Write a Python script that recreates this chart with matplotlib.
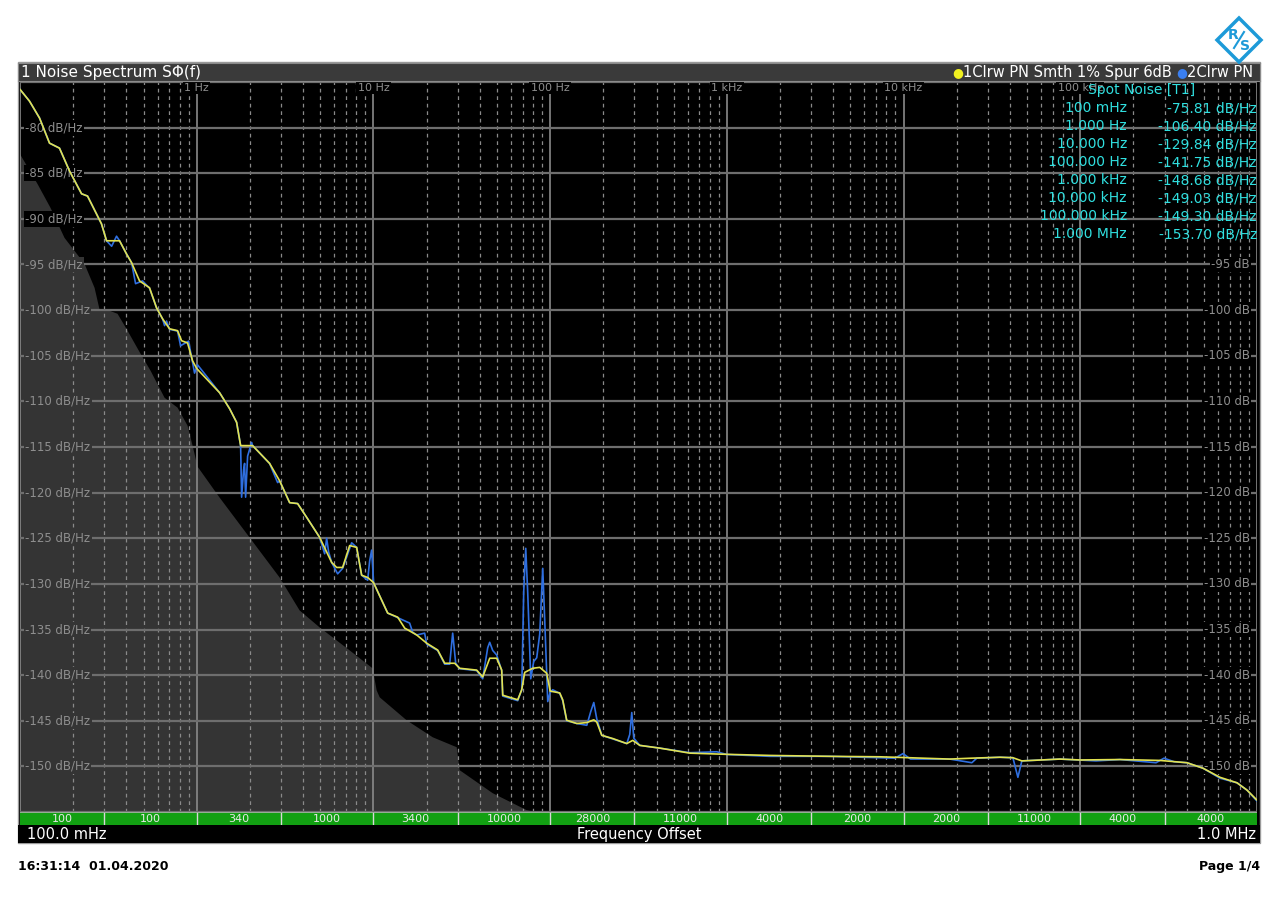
import numpy as np
import matplotlib
matplotlib.use("Agg")
import matplotlib.pyplot as plt
from matplotlib.ticker import LogLocator, MultipleLocator
from matplotlib.patches import Rectangle, Polygon
from matplotlib.lines import Line2D
from matplotlib.offsetbox import TextArea, HPacker, AnchoredOffsetbox

# ---------------- data ----------------
# Trace 1 (yellow, smoothed): offset frequency [Hz], phase noise [dBc/Hz]
smooth_freq = [0.1, 0.1132, 0.129, 0.1469, 0.1673, 0.1906, 0.223, 0.2411, 0.2892, 0.3088,
               0.3659, 0.4008, 0.4279, 0.4748, 0.5408, 0.5925, 0.6407, 0.7021, 0.7791, 0.8209,
               0.8875, 0.9473, 1.0, 1.347, 1.535, 1.682, 1.772, 2.072, 2.585, 2.945,
               3.356, 3.724, 4.188, 4.961, 5.801, 6.191, 6.695, 7.336, 8.035, 8.577,
               9.275, 10.0, 12.04, 13.72, 15.03, 17.57, 20.01, 23.10, 25.31, 28.83,
               30.77, 38.41, 41.53, 45.5, 49.85, 53.2, 53.91, 65.55, 69.06, 71.81,
               79.69, 87.3, 95.65, 100, 113.3, 117.8, 124.1, 141.5, 161.2, 176.6,
               183.6, 196.0, 226.2, 271.4, 293.5, 321.6, 417.4, 617.0, 1000, 1752,
               3830, 7348, 10000, 18270, 24340, 35060, 41550, 46700, 76640, 100000,
               167700, 282400, 401500, 494700, 617600, 770700, 877800, 1000000]
smooth_db = [-75.81, -77.1, -78.95, -81.7, -82.25, -84.75, -87.25, -87.5, -90.55, -92.4,
             -92.4, -93.85, -94.8, -96.8, -97.55, -99.75, -100.95, -102.05, -102.25, -103.35,
             -103.6, -105.55, -106.40, -109.05, -110.8, -112.3, -114.85, -114.85, -116.8, -118.7,
             -121.1, -121.2, -122.7, -124.9, -127.65, -128.2, -128.2, -125.8, -126.0, -129.05,
             -129.3, -129.84, -133.2, -133.65, -134.85, -135.6, -136.5, -137.25, -138.7, -138.7,
             -139.25, -139.45, -140.2, -138.15, -138.15, -139.45, -142.2, -142.7, -141.6, -139.7,
             -139.25, -139.15, -139.8, -141.75, -141.95, -142.7, -144.95, -145.3, -145.2, -144.9,
             -145.15, -146.6, -146.95, -147.5, -147.15, -147.7, -148.0, -148.55, -148.68, -148.8,
             -148.9, -148.95, -149.03, -149.2, -149.1, -149.0, -149.05, -149.4, -149.2, -149.30,
             -149.25, -149.35, -149.6, -150.2, -151.2, -151.8, -152.6, -153.70]

# Trace 2 (blue, raw with spurs)
raw_freq = [0.1, 0.1132, 0.129, 0.1469, 0.1673, 0.1906, 0.223, 0.2411, 0.2892, 0.3088,
            0.33, 0.3518, 0.3659, 0.4008, 0.4279, 0.4508, 0.4938, 0.5408, 0.5925, 0.6407,
            0.658, 0.675, 0.7021, 0.7791, 0.8103, 0.8993, 0.9723, 1.011, 1.347, 1.535,
            1.682, 1.772, 1.795, 1.842, 1.866, 1.891, 1.941, 2.045, 2.072, 2.585,
            2.870, 2.945, 3.356, 3.724, 4.188, 4.961, 5.297, 5.436, 5.578, 5.801,
            6.274, 6.695, 7.530, 8.035, 8.577, 9.275, 9.518, 9.770, 10.03, 12.04,
            13.72, 16.03, 16.68, 17.57, 19.49, 20.01, 23.10, 25.31, 27.01, 28.09,
            29.21, 30.77, 38.41, 41.53, 44.33, 45.5, 47.32, 49.85, 53.2, 53.91,
            65.55, 69.06, 70.89, 72.76, 74.68, 77.66, 80.73, 83.95, 87.3, 90.80,
            93.20, 96.92, 100, 103.4, 113.3, 117.8, 124.1, 141.5, 161.2, 169.7,
            176.6, 183.6, 196.0, 226.2, 271.4, 282.2, 289.7, 297.3, 321.6, 417.4,
            617.0, 877, 1000, 1752, 3830, 8926, 9930, 10950, 18270, 24340,
            25970, 35060, 41550, 44360, 46700, 76640, 122700, 167700, 268300, 297800,
            340000, 401500, 494700, 617600, 770700, 877800, 1000000]
raw_db = [-75.81, -77.1, -78.95, -81.7, -82.25, -84.75, -87.25, -87.5, -90.55, -92.4,
          -93.0, -91.9, -92.4, -93.85, -94.8, -97.1, -96.8, -97.6, -99.75, -100.95,
          -101.7, -101.2, -102.1, -102.3, -103.9, -103.4, -106.9, -106.0, -109.05, -110.8,
          -112.3, -114.85, -120.5, -117.5, -116.8, -120.5, -116.0, -114.5, -114.85, -116.8,
          -118.9, -118.7, -121.1, -121.2, -122.7, -124.9, -126.7, -125.0, -126.5, -127.65,
          -128.9, -128.3, -125.5, -126.0, -129.05, -129.6, -127.5, -126.3, -129.9, -133.2,
          -133.7, -134.3, -135.3, -135.6, -135.4, -136.6, -137.3, -138.8, -138.8, -135.4,
          -138.7, -139.3, -139.5, -140.4, -137.0, -136.4, -137.3, -137.8, -139.5, -142.3,
          -142.8, -141.6, -130.8, -126.1, -131.0, -140.4, -138.5, -138.1, -135.5, -128.3,
          -134.0, -142.9, -141.9, -141.6, -142.0, -142.8, -145.0, -145.3, -145.5, -144.0,
          -143.0, -144.8, -146.6, -147.0, -147.5, -146.5, -144.1, -146.9, -147.7, -148.0,
          -148.5, -148.4, -148.7, -148.9, -148.9, -149.1, -148.6, -149.2, -149.2, -149.6,
          -149.1, -149.0, -149.05, -151.2, -149.4, -149.2, -149.4, -149.25, -149.6, -149.1,
          -149.5, -149.6, -150.2, -151.3, -151.8, -152.6, -153.8]

# measurement floor (grey area)
floor_freq = [0.1, 0.1256, 0.1489, 0.1786, 0.2318, 0.2643, 0.2821, 0.3212, 0.3565, 0.4061,
              0.4810, 0.5480, 0.6577, 0.7791, 0.8875, 0.9473, 1.011, 1.347, 1.992, 2.945,
              3.822, 4.961, 7.336, 9.899, 10.43, 10.85, 15.42, 21.65, 29.6, 30.77,
              47.32, 73.7, 106.1, 1000000]
floor_db = [-82.9, -86.17, -88.8, -92.08, -94.93, -97.56, -99.96, -100.07, -100.4, -102.26,
            -104.78, -106.64, -109.6, -110.69, -112.66, -114.85, -117.15, -120.54, -124.92, -129.3,
            -132.91, -134.77, -137.29, -139.26, -141.67, -142.43, -144.95, -146.81, -147.9, -150.42,
            -152.94, -154.8, -155.4, -160.0]

# spot noise table
spot_labels = ["100 mHz", "1.000 Hz", "10.000 Hz", "100.000 Hz", "1.000 kHz",
               "10.000 kHz", "100.000 kHz", "1.000 MHz"]
spot_values = [-75.81, -106.40, -129.84, -141.75, -148.68, -149.03, -149.30, -153.70]

# segment bar below the plot
seg_edges = [0.1, 0.3, 1, 3, 10, 30, 100, 300, 1e3, 3e3, 1e4, 3e4, 1e5, 3e5, 1e6]
seg_labels = ["100", "100", "340", "1000", "3400", "10000", "28000", "11000",
              "4000", "2000", "2000", "11000", "4000", "4000"]

decade_freqs = [1, 10, 100, 1e3, 1e4, 1e5]
decade_labels = ["1 Hz", "10 Hz", "100 Hz", "1 kHz", "10 kHz", "100 kHz"]
left_levels = list(range(-80, -151, -5))
right_levels = list(range(-95, -151, -5))

# ---------------- figure ----------------
W, H = 1280, 905
fig = plt.figure(figsize=(12.8, 9.05), dpi=100)
fig.patch.set_facecolor("white")


def fx(px):
    return px / W


def fy(py):
    return 1 - py / H


def px_axes(x0, y0, x1, y1):
    return fig.add_axes([x0 / W, 1 - y1 / H, (x1 - x0) / W, (y1 - y0) / H])


GRAY_TXT = "#8e8e8e"
CYAN = "#30e0e0"
FLOOR_C = "#343434"

# outer black frame
fig.add_artist(Rectangle((fx(18), fy(843)), 1242 / W, (843 - 62) / H,
                         transform=fig.transFigure, facecolor="black",
                         edgecolor="#9a9a9a", lw=1.0, zorder=0))

# main plot
ax = px_axes(20, 82, 1257, 812)
ax.set_facecolor("black")
ax.set_xscale("log")
ax.set_xlim(0.1, 1e6)
ax.set_ylim(-155, -75)
ax.xaxis.set_major_locator(LogLocator(base=10, numticks=20))
ax.xaxis.set_minor_locator(LogLocator(base=10, subs=np.arange(2, 10), numticks=200))
ax.yaxis.set_major_locator(MultipleLocator(5))
ax.set_axisbelow(True)
ax.grid(which="major", axis="x", color="#8a8a8a", lw=1.2, ls="-")
ax.grid(which="minor", axis="x", color="#8a8a8a", lw=0.9, ls=(0, (3, 3)))
ax.grid(which="major", axis="y", color="#6e6e6e", lw=1.6, ls="-")
ax.tick_params(which="both", length=0, labelbottom=False, labelleft=False)
for s in ax.spines.values():
    s.set_visible(False)

ax.fill_between(floor_freq, floor_db, -200, color=FLOOR_C, lw=0, zorder=0.2)

# left level labels: background matches what lies under the label
label_end_freq = 0.23
floor_at_label = np.interp(np.log10(label_end_freq), np.log10(floor_freq), floor_db)
for lv in left_levels:
    bg = FLOOR_C if lv <= floor_at_label else "black"
    ax.text(5 / 1237, lv, f"{lv} dB/Hz", transform=ax.get_yaxis_transform(),
            ha="left", va="center", fontsize=8.5, color=GRAY_TXT, zorder=1,
            bbox=dict(facecolor=bg, edgecolor="none", pad=1.0))
for lv in right_levels:
    ax.text(1 - 7 / 1237, lv, f"{lv} dB", transform=ax.get_yaxis_transform(),
            ha="right", va="center", fontsize=8.5, color=GRAY_TXT, zorder=1,
            bbox=dict(facecolor="black", edgecolor="none", pad=1.0))
for f, lab in zip(decade_freqs, decade_labels):
    ax.text(f, 1 - 6 / 730, lab, transform=ax.get_xaxis_transform(),
            ha="center", va="center", fontsize=8, color=GRAY_TXT, zorder=1,
            bbox=dict(facecolor="black", edgecolor="none", pad=1.0))

ax.plot(raw_freq, raw_db, color="#2f6fe0", lw=1.2, zorder=3)
ax.plot(smooth_freq, smooth_db, color="#e2e250", lw=1.2, zorder=4)

# header bar
hdr = px_axes(18, 63, 1260, 81)
hdr.set_facecolor("#3a3a3a")
hdr.set_xticks([]); hdr.set_yticks([])
for s in hdr.spines.values():
    s.set_color("#8a8a8a"); s.set_linewidth(0.8)
hdr.text(3 / 1242, 0.45, "1 Noise Spectrum S\u03a6(f)", transform=hdr.transAxes,
         ha="left", va="center", fontsize=11, color="white")
parts = [TextArea("\u25cf", textprops=dict(color="#f0f020", fontsize=9)),
         TextArea("1Clrw PN Smth 1% Spur 6dB ", textprops=dict(color="white", fontsize=10.5)),
         TextArea("\u25cf", textprops=dict(color="#3a7ff0", fontsize=9)),
         TextArea("2Clrw PN", textprops=dict(color="white", fontsize=10.5))]
pack = HPacker(children=parts, align="center", pad=0, sep=0)
hdr.add_artist(AnchoredOffsetbox(loc="center right", child=pack, frameon=False,
                                 bbox_to_anchor=(1.0, 0.45), bbox_transform=hdr.transAxes,
                                 borderpad=0.1))

# spot noise table
fig.text(fx(1142), fy(90), "Spot Noise [T1]", ha="center", va="center",
         fontsize=10, color=CYAN)
for i, (lab, v) in enumerate(zip(spot_labels, spot_values)):
    yy = 108 + 18 * i
    fig.text(fx(1127), fy(yy), lab, ha="right", va="center", fontsize=10, color=CYAN)
    fig.text(fx(1257), fy(yy), f"{v:.2f} dB/Hz", ha="right", va="center",
             fontsize=10, color=CYAN)

# green segment bar
gb = px_axes(20, 812, 1257, 825)
gb.set_facecolor("#12a012")
gb.set_xscale("log")
gb.set_xlim(0.1, 1e6)
gb.set_ylim(0, 1)
gb.set_xticks([]); gb.set_yticks([])
gb.minorticks_off()
for s in gb.spines.values():
    s.set_visible(False)
gb.vlines(seg_edges[1:-1], 0, 1, color="#d8d8d8", lw=1.0)
gb.axhline(1, color="#b0b0b0", lw=1.2)
for a, b, lab in zip(seg_edges[:-1], seg_edges[1:], seg_labels):
    gb.text(np.sqrt(a * b), 0.45, lab, ha="center", va="center", fontsize=8, color="#e8e8e8")

# bottom black bar
bb = px_axes(18, 825, 1260, 843)
bb.set_facecolor("black")
bb.set_xticks([]); bb.set_yticks([])
for s in bb.spines.values():
    s.set_visible(False)
bb.text(9 / 1242, 0.5, "100.0 mHz", transform=bb.transAxes, ha="left", va="center",
        fontsize=10.5, color="white")
bb.text(0.5, 0.5, "Frequency Offset", transform=bb.transAxes, ha="center", va="center",
        fontsize=10.5, color="white")
bb.text(1 - 4 / 1242, 0.5, "1.0 MHz", transform=bb.transAxes, ha="right", va="center",
        fontsize=10.5, color="white")

# footer
fig.text(fx(18), fy(866), "16:31:14  01.04.2020", ha="left", va="center",
         fontsize=9, fontweight="bold", color="black")
fig.text(fx(1260), fy(866), "Page 1/4", ha="right", va="center",
         fontsize=9, fontweight="bold", color="black")

# R&S logo
LOGO = "#1d9ad8"
cx, cy, r = 1239, 40, 22
fig.add_artist(Polygon([(fx(cx), fy(cy - r)), (fx(cx + r), fy(cy)), (fx(cx), fy(cy + r)),
                        (fx(cx - r), fy(cy))], closed=True, transform=fig.transFigure,
                       facecolor="white", edgecolor=LOGO, lw=2.5))
fig.text(fx(1233), fy(35), "R", ha="center", va="center", fontsize=10,
         fontweight="bold", color=LOGO)
fig.text(fx(1245), fy(46), "S", ha="center", va="center", fontsize=10,
         fontweight="bold", color=LOGO)
fig.add_artist(Line2D([fx(1234), fx(1244)], [fy(48), fy(32)], transform=fig.transFigure,
                      color=LOGO, lw=1.5))

fig.savefig("out.png", dpi=100, facecolor="white")
